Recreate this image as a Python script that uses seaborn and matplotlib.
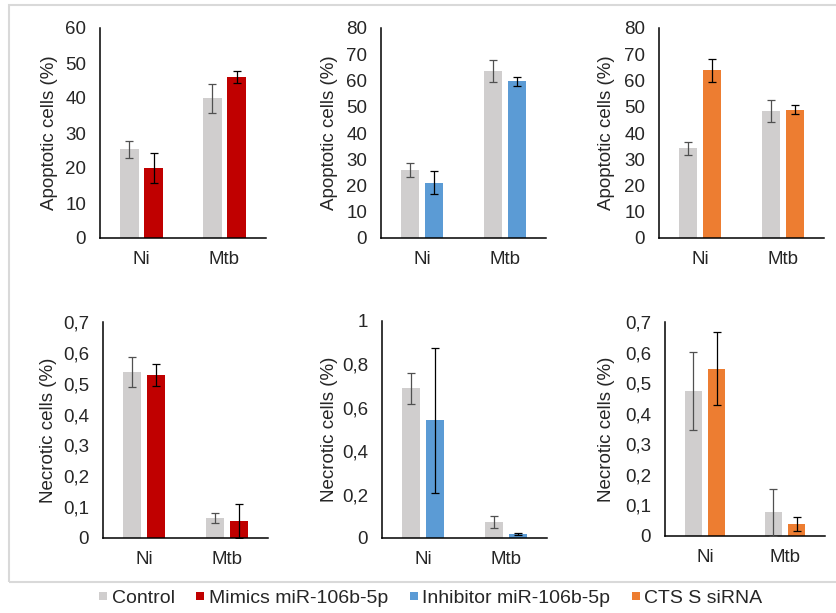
import matplotlib
matplotlib.use("Agg")
import matplotlib.pyplot as plt
from matplotlib.lines import Line2D
from matplotlib.patches import Rectangle
from matplotlib.ticker import FuncFormatter, MultipleLocator
import seaborn as sns
import pandas as pd

# ---- data -------------------------------------------------------------
groups = ["Ni", "Mtb"]

# Apoptotic cells (%)
apo_ctrl_mimics = [25.3, 39.9]
apo_ctrl_mimics_err = [2.5, 4.2]
apo_mimics = [19.9, 46.1]
apo_mimics_err = [4.3, 1.75]

apo_ctrl_inhib = [25.9, 63.7]
apo_ctrl_inhib_err = [2.7, 4.3]
apo_inhib = [21.1, 59.7]
apo_inhib_err = [4.4, 1.8]

apo_ctrl_sirna = [34.1, 48.5]
apo_ctrl_sirna_err = [2.5, 4.2]
apo_sirna = [63.9, 48.9]
apo_sirna_err = [4.3, 1.75]

# Necrotic cells (%)
nec_ctrl_mimics = [0.538, 0.066]
nec_ctrl_mimics_err = [0.050, 0.016]
nec_mimics = [0.528, 0.055]
nec_mimics_err = [0.035, 0.056]

nec_ctrl_inhib = [0.690, 0.074]
nec_ctrl_inhib_err = [0.072, 0.029]
nec_inhib = [0.542, 0.020]
nec_inhib_err = [0.335, 0.005]

nec_ctrl_sirna = [0.474, 0.077]
nec_ctrl_sirna_err = [0.128, 0.078]
nec_sirna = [0.547, 0.039]
nec_sirna_err = [0.120, 0.024]

legend_labels = ["Control", "Mimics miR-106b-5p", "Inhibitor miR-106b-5p", "CTS S siRNA"]
colors = ["#d0cece", "#c00000", "#5b9bd5", "#ed7d31"]

# ---- style ------------------------------------------------------------
sns.set_theme(style="white")
plt.rcParams["font.family"] = ["Liberation Sans", "DejaVu Sans"]
plt.rcParams["font.size"] = 13.5
TEXT = "#262626"

fig = plt.figure(figsize=(8.37, 6.13), dpi=100)
W, H = 837, 613


def px_axes(x0, x1, ytop, ybot):
    return fig.add_axes([x0 / W, 1 - ybot / H, (x1 - x0) / W, (ybot - ytop) / H])


def comma(v, _pos):
    if abs(v) < 1e-9:
        return "0"
    return f"{v:g}".replace(".", ",")


panels = [
    # (ctrl, ctrl_err, treat, treat_err, treat colour, ylabel, ymax, step, box, label x)
    (apo_ctrl_mimics, apo_ctrl_mimics_err, apo_mimics, apo_mimics_err, colors[1],
     "Apoptotic cells (%)", 60, 10, (100, 266, 28, 238), -0.25),
    (apo_ctrl_inhib, apo_ctrl_inhib_err, apo_inhib, apo_inhib_err, colors[2],
     "Apoptotic cells (%)", 80, 10, (381, 546, 28, 238), -0.26),
    (apo_ctrl_sirna, apo_ctrl_sirna_err, apo_sirna, apo_sirna_err, colors[3],
     "Apoptotic cells (%)", 80, 10, (659, 824, 28, 238), -0.265),
    (nec_ctrl_mimics, nec_ctrl_mimics_err, nec_mimics, nec_mimics_err, colors[1],
     "Necrotic cells (%)", 0.7, 0.1, (103, 268, 322, 538), -0.28),
    (nec_ctrl_inhib, nec_ctrl_inhib_err, nec_inhib, nec_inhib_err, colors[2],
     "Necrotic cells (%)", 1.0, 0.2, (382, 547, 321, 538), -0.265),
    (nec_ctrl_sirna, nec_ctrl_sirna_err, nec_sirna, nec_sirna_err, colors[3],
     "Necrotic cells (%)", 0.7, 0.1, (665, 825, 322, 536), -0.31),
]

for ctrl, ctrl_err, treat, treat_err, tcol, ylabel, ymax, step, box, lx in panels:
    ax = px_axes(*box)
    df = pd.DataFrame({
        "group": groups * 2,
        "condition": ["Control"] * 2 + ["Treated"] * 2,
        "value": list(ctrl) + list(treat),
    })
    sns.barplot(data=df, x="group", y="value", hue="condition",
                palette=[colors[0], tcol], saturation=1, width=0.58, gap=0.24,
                errorbar=None, legend=False, linewidth=0, ax=ax)

    # error bars centred on each bar (patch order: hue level, then group)
    bars = ax.patches
    errs = list(ctrl_err) + list(treat_err)
    vals = list(ctrl) + list(treat)
    for i, (bar, v, e) in enumerate(zip(bars, vals, errs)):
        xc = bar.get_x() + bar.get_width() / 2
        ax.errorbar(xc, v, yerr=e, fmt="none",
                    ecolor="#505050" if i < 2 else "black",
                    elinewidth=0.9, capsize=2.9, capthick=0.9, zorder=5)

    ax.set_xlim(-0.5, 1.5)
    ax.set_ylim(0, ymax)
    ax.yaxis.set_major_locator(MultipleLocator(step))
    ax.yaxis.set_major_formatter(FuncFormatter(comma))
    ax.set_xlabel("")
    ax.set_ylabel(ylabel, color=TEXT, fontsize=13.5)
    ax.yaxis.set_label_coords(lx, 0.5)
    ax.tick_params(axis="both", length=0, colors=TEXT, labelsize=13.5)
    ax.tick_params(axis="y", pad=10)
    ax.tick_params(axis="x", pad=9)
    for side in ("top", "right"):
        ax.spines[side].set_visible(False)
    for side in ("left", "bottom"):
        ax.spines[side].set_color("black")
        ax.spines[side].set_linewidth(1.1)
    ax.patch.set_alpha(0)

# outer frame around the panels
fig.patches.append(Rectangle((9 / W, 1 - 582 / H), 1.0, (582 - 5) / H,
                             transform=fig.transFigure, fill=False,
                             edgecolor="#d9d9d9", linewidth=1.5, zorder=0))

handles = [Line2D([], [], marker="s", linestyle="", markersize=5.8,
                  markerfacecolor=c, markeredgewidth=0) for c in colors]
fig.legend(handles, legend_labels, loc="center", bbox_to_anchor=(430 / W, 1 - 598 / H),
           ncol=4, frameon=False, handlelength=0.6, handletextpad=0.15,
           columnspacing=1.0, fontsize=14, labelcolor=TEXT, borderpad=0)

fig.savefig("out.png", dpi=100, facecolor="white")
